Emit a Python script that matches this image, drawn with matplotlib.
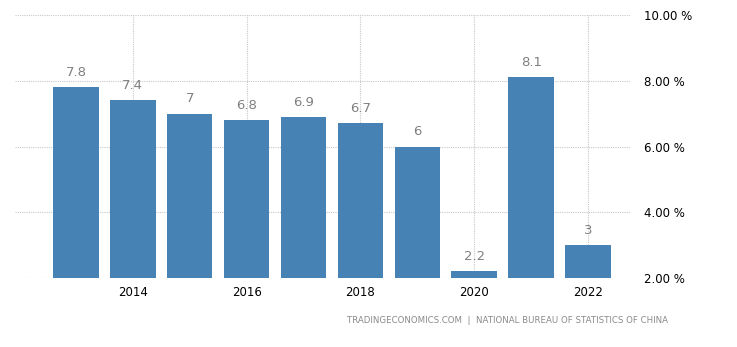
import numpy as np
import matplotlib as mpl
mpl.use("Agg")
import matplotlib.pyplot as plt

years = [2013, 2014, 2015, 2016, 2017, 2018, 2019, 2020, 2021, 2022]
growth = [7.8, 7.4, 7.0, 6.8, 6.9, 6.7, 6.0, 2.2, 8.1, 3.0]
labels = ["7.8", "7.4", "7", "6.8", "6.9", "6.7", "6", "2.2", "8.1", "3"]
xticks = [2014, 2016, 2018, 2020, 2022]
yticks = [2, 4, 6, 8, 10]
source = "TRADINGECONOMICS.COM  |  NATIONAL BUREAU OF STATISTICS OF CHINA"

BAR = "#4682b4"
GRID = "#c8c8c8"

fig = plt.figure(figsize=(7.37, 3.47), dpi=100)
ax = fig.add_axes([0.0204, 0.1988, 0.8346, 0.758])
ax.bar(years, growth, width=0.8, color=BAR, zorder=3)
for x, v, s in zip(years, growth, labels):
    ax.text(x, v + 0.25, s, ha="center", va="bottom", fontsize=9.5, color="#808080")

ax.set_xlim(2011.93, 2022.74)
ax.set_ylim(2, 10)
ax.set_xticks(xticks)
ax.set_xticklabels([str(t) for t in xticks])
ax.set_yticks(yticks)
ax.set_yticklabels([f"{t:.2f} %" for t in yticks])
ax.yaxis.tick_right()
ax.tick_params(length=0, labelsize=8.5, colors="black")
ax.tick_params(axis="y", pad=10)
ax.tick_params(axis="x", pad=6)
for sp in ax.spines.values():
    sp.set_visible(False)
ax.grid(True, color=GRID, linestyle=(0, (1, 1)), linewidth=0.8, zorder=0)
ax.set_axisbelow(True)

fig.text(0.907, 0.077, source, ha="right", va="center", fontsize=6.2, color="#8a8a8a")
fig.savefig("out.png", dpi=100)
